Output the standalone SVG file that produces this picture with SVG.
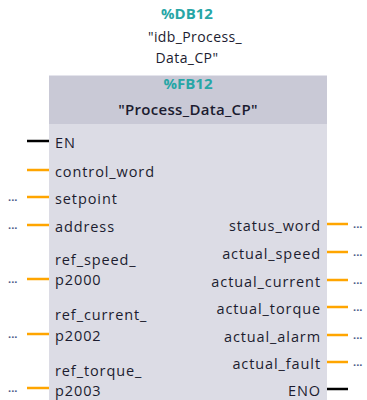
<svg xmlns="http://www.w3.org/2000/svg" width="367" height="400" viewBox="0 0 367 400">
<defs>
<linearGradient id="ulL" x1="0" x2="1" y1="0" y2="0"><stop offset="0" stop-color="#fff" stop-opacity="1"/><stop offset="0.6" stop-color="#fff" stop-opacity="0.8"/><stop offset="1" stop-color="#fff" stop-opacity="0"/></linearGradient>
<linearGradient id="ulR" x1="1" x2="0" y1="0" y2="0"><stop offset="0" stop-color="#fff" stop-opacity="1"/><stop offset="0.6" stop-color="#fff" stop-opacity="0.8"/><stop offset="1" stop-color="#fff" stop-opacity="0"/></linearGradient>
</defs>
<style>
text{font-family:"Open Sans","DejaVu Sans",sans-serif;}
.lbl{font-size:14.5px;fill:#1c1c30;letter-spacing:0.9px;}
.r{text-anchor:end;}
.teal{font-size:15px;fill:#27a6a6;font-weight:bold;text-anchor:middle;}
.name{font-size:14px;fill:#1c1c30;text-anchor:middle;letter-spacing:0.4px;}
.dots{font-size:11px;fill:#4a5a88;font-weight:bold;}
.bool{stroke:#000;stroke-width:2.5;}
.wire{stroke:#ffa500;stroke-width:2.5;}
.ulL{stroke:url(#ulL);stroke-width:1.5;}
.ulR{stroke:url(#ulR);stroke-width:1.5;}
</style>
<rect width="367" height="400" fill="#fff"/>
<g id="instance-db">
<text class="teal" x="187" y="19">%DB12</text>
<text class="name" x="195" y="42">"idb_Process_</text>
<text class="name" x="187" y="63">Data_CP"</text>
</g>
<g id="fb-block">
<rect x="49" y="124" width="278" height="276" fill="#dcdce5"/>
<rect x="49" y="75" width="278" height="49" fill="#c9c9d6"/>
<line x1="49" y1="75.5" x2="327" y2="75.5" stroke="#e4e4ec" stroke-width="1"/>
<text class="teal" x="188" y="89">%FB12</text>
<text class="name" x="188" y="115" style="font-size:15px;font-weight:600;letter-spacing:0.3px">"Process_Data_CP"</text>
</g>
<g id="connectors">
<line class="bool" x1="27" y1="141" x2="49" y2="141"/>
<line class="wire" x1="27" y1="170" x2="49" y2="170"/>
<line class="wire" x1="27" y1="197" x2="49" y2="197"/>
<line class="wire" x1="27" y1="225" x2="49" y2="225"/>
<line class="wire" x1="27" y1="279" x2="49" y2="279"/>
<line class="wire" x1="27" y1="334" x2="49" y2="334"/>
<line class="wire" x1="27" y1="388" x2="49" y2="388"/>
<line class="wire" x1="327" y1="224" x2="348" y2="224"/>
<line class="wire" x1="327" y1="252" x2="348" y2="252"/>
<line class="wire" x1="327" y1="280" x2="348" y2="280"/>
<line class="wire" x1="327" y1="307" x2="348" y2="307"/>
<line class="wire" x1="327" y1="335" x2="348" y2="335"/>
<line class="wire" x1="327" y1="362" x2="348" y2="362"/>
<line class="bool" x1="327" y1="389" x2="348" y2="389"/>
<text class="dots" x="8" y="201">...</text>
<text class="dots" x="8" y="229">...</text>
<text class="dots" x="8" y="283">...</text>
<text class="dots" x="8" y="338">...</text>
<text class="dots" x="8" y="392">...</text>
<text class="dots" x="353" y="228">...</text>
<text class="dots" x="353" y="256">...</text>
<text class="dots" x="353" y="284">...</text>
<text class="dots" x="353" y="311">...</text>
<text class="dots" x="353" y="339">...</text>
<text class="dots" x="353" y="366">...</text>
</g>
<g id="inputs">
<g id="in-EN"><text class="lbl" x="55" y="148">EN</text><line class="ulL" x1="55" y1="154" x2="85" y2="154"/></g>
<g id="in-control_word"><text class="lbl" x="55" y="177">control_word</text><line class="ulL" x1="55" y1="182.5" x2="158" y2="182.5"/></g>
<g id="in-setpoint"><text class="lbl" x="55" y="204">setpoint</text><line class="ulL" x1="55" y1="210.5" x2="122" y2="210.5"/></g>
<g id="in-address"><text class="lbl" x="55" y="232">address</text><line class="ulL" x1="55" y1="238" x2="120" y2="238"/></g>
<g id="in-ref_speed"><text class="lbl" x="55" y="265">ref_speed_</text><text class="lbl" x="55" y="285">p2000</text><line class="ulL" x1="55" y1="293" x2="142" y2="293"/></g>
<g id="in-ref_current"><text class="lbl" x="55" y="320">ref_current_</text><text class="lbl" x="55" y="341">p2002</text><line class="ulL" x1="55" y1="348" x2="150" y2="348"/></g>
<g id="in-ref_torque"><text class="lbl" x="55" y="376">ref_torque_</text><text class="lbl" x="55" y="396">p2003</text></g>
</g>
<g id="outputs">
<g id="out-status_word"><text class="lbl r" x="321" y="231">status_word</text><line class="ulR" x1="225" y1="238" x2="321" y2="238"/></g>
<g id="out-actual_speed"><text class="lbl r" x="321" y="259">actual_speed</text><line class="ulR" x1="215" y1="266" x2="321" y2="266"/></g>
<g id="out-actual_current"><text class="lbl r" x="321" y="287">actual_current</text><line class="ulR" x1="208" y1="293" x2="321" y2="293"/></g>
<g id="out-actual_torque"><text class="lbl r" x="321" y="314">actual_torque</text><line class="ulR" x1="212" y1="321" x2="321" y2="321"/></g>
<g id="out-actual_alarm"><text class="lbl r" x="321" y="342">actual_alarm</text><line class="ulR" x1="218" y1="348" x2="321" y2="348"/></g>
<g id="out-actual_fault"><text class="lbl r" x="321" y="369">actual_fault</text><line class="ulR" x1="229" y1="376" x2="321" y2="376"/></g>
<g id="out-ENO"><text class="lbl r" x="321" y="396">ENO</text></g>
</g>
</svg>
